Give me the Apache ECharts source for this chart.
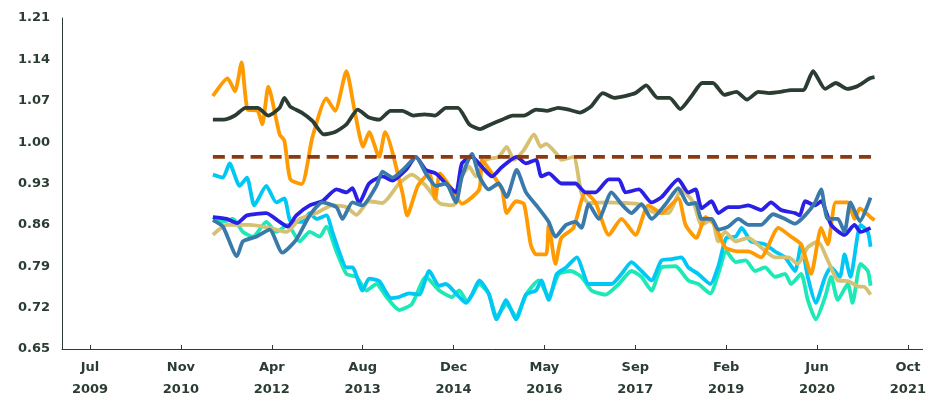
<!DOCTYPE html>
<html>
<head>
<meta charset="utf-8">
<script src="https://cdn.jsdelivr.net/npm/echarts@6/dist/echarts.min.js"></script>
<style>html,body{margin:0;padding:0;background:#fff}#c{width:929px;height:401px}</style>
</head>
<body>
<div id="c"></div>
<script>
// x axis: decimal years, ten evenly spaced date ticks
var tickLabels = ['Jul\n2009', 'Nov\n2010', 'Apr\n2012', 'Aug\n2013', 'Dec\n2014',
                  'May\n2016', 'Sep\n2017', 'Feb\n2019', 'Jun\n2020', 'Oct\n2021'];
var tickStart = 2009.5, tickEnd = 2021.75;

var darkX = [2011.34,2011.50,2011.67,2011.83,2012.01,2012.17,2012.34,2012.41,2012.50,2012.67,2012.83,2013.00,2013.17,2013.34,2013.51,2013.67,2013.83,2014.00,2014.18,2014.34,2014.51,2014.67,2014.83,2015.01,2015.18,2015.34,2015.50,2015.67,2015.83,2016.00,2016.18,2016.35,2016.51,2016.67,2016.84,2017.00,2017.18,2017.35,2017.51,2017.67,2017.83,2018.00,2018.18,2018.34,2018.51,2018.67,2018.83,2019.00,2019.18,2019.34,2019.51,2019.67,2019.84,2020.00,2020.18,2020.33,2020.51,2020.67,2020.84,2021.00,2021.18,2021.25];
var darkY = [1.038,1.038,1.045,1.058,1.058,1.045,1.058,1.075,1.060,1.050,1.036,1.013,1.017,1.030,1.055,1.042,1.038,1.053,1.053,1.045,1.047,1.045,1.058,1.058,1.030,1.022,1.030,1.038,1.045,1.045,1.055,1.053,1.058,1.055,1.050,1.060,1.083,1.075,1.078,1.083,1.096,1.075,1.075,1.056,1.078,1.100,1.100,1.080,1.085,1.072,1.085,1.083,1.085,1.088,1.088,1.120,1.090,1.100,1.090,1.095,1.108,1.110];

var benchX = [2011.34, 2021.25];
var benchY = [0.975, 0.975];

var orangeX = [2011.34,2011.56,2011.67,2011.77,2011.86,2012.01,2012.08,2012.17,2012.34,2012.41,2012.50,2012.67,2012.83,2013.04,2013.17,2013.34,2013.46,2013.59,2013.68,2013.83,2013.92,2014.18,2014.25,2014.41,2014.58,2014.67,2014.74,2014.92,2015.07,2015.33,2015.37,2015.52,2015.67,2015.74,2015.88,2016.00,2016.10,2016.18,2016.33,2016.37,2016.47,2016.56,2016.74,2016.92,2017.07,2017.27,2017.46,2017.67,2017.86,2018.06,2018.31,2018.42,2018.58,2018.72,2018.86,2019.01,2019.21,2019.36,2019.55,2019.81,2020.00,2020.15,2020.30,2020.45,2020.55,2020.67,2020.85,2020.95,2021.03,2021.19,2021.25];
var orangeY = [1.078,1.108,1.086,1.135,1.055,1.053,1.030,1.094,1.013,1.003,0.937,0.929,1.008,1.074,1.053,1.120,1.055,0.992,1.017,0.975,1.017,0.914,0.876,0.926,0.947,0.904,0.947,0.920,0.896,0.920,0.970,0.947,0.920,0.880,0.900,0.895,0.827,0.810,0.810,0.860,0.794,0.838,0.855,0.915,0.898,0.843,0.870,0.843,0.893,0.880,0.905,0.860,0.838,0.873,0.860,0.822,0.815,0.815,0.805,0.855,0.840,0.827,0.777,0.855,0.827,0.898,0.898,0.870,0.888,0.873,0.868];

var khakiX = [2011.34,2011.55,2011.89,2012.19,2012.44,2012.64,2012.89,2013.13,2013.34,2013.49,2013.68,2013.88,2014.13,2014.32,2014.53,2014.73,2014.92,2014.98,2015.07,2015.18,2015.28,2015.43,2015.62,2015.74,2015.85,2016.00,2016.15,2016.25,2016.33,2016.49,2016.56,2016.74,2016.86,2016.97,2017.22,2017.52,2017.72,2017.97,2018.16,2018.36,2018.54,2018.66,2018.81,2018.91,2019.01,2019.17,2019.36,2019.55,2019.76,2019.96,2020.10,2020.25,2020.40,2020.55,2020.70,2020.85,2021.00,2021.10,2021.19];
var khakiY = [0.843,0.860,0.860,0.855,0.848,0.870,0.880,0.893,0.890,0.877,0.900,0.897,0.930,0.945,0.926,0.897,0.893,0.897,0.942,0.958,0.942,0.970,0.975,0.992,0.970,0.987,1.013,0.992,0.997,0.980,0.970,0.975,0.914,0.897,0.898,0.897,0.895,0.880,0.880,0.920,0.897,0.860,0.870,0.832,0.848,0.832,0.838,0.822,0.805,0.805,0.794,0.822,0.832,0.800,0.766,0.765,0.756,0.755,0.742];

var blueX = [2011.34,2011.55,2011.70,2011.85,2012.14,2012.34,2012.46,2012.59,2012.79,2012.98,2013.19,2013.34,2013.43,2013.53,2013.68,2013.88,2014.03,2014.23,2014.38,2014.53,2014.68,2014.83,2014.98,2015.07,2015.22,2015.37,2015.52,2015.67,2015.89,2016.03,2016.18,2016.26,2016.37,2016.56,2016.77,2016.92,2017.07,2017.27,2017.42,2017.52,2017.72,2017.91,2018.06,2018.31,2018.46,2018.57,2018.66,2018.81,2018.91,2019.06,2019.21,2019.36,2019.55,2019.70,2019.85,2020.06,2020.13,2020.21,2020.36,2020.45,2020.60,2020.80,2020.95,2021.04,2021.19];
var blueY = [0.873,0.870,0.863,0.876,0.880,0.865,0.857,0.876,0.893,0.900,0.920,0.915,0.922,0.897,0.930,0.942,0.935,0.953,0.975,0.953,0.947,0.930,0.915,0.964,0.975,0.958,0.942,0.958,0.975,0.964,0.970,0.942,0.947,0.930,0.930,0.915,0.915,0.937,0.937,0.915,0.920,0.898,0.907,0.937,0.915,0.920,0.888,0.900,0.880,0.890,0.890,0.893,0.885,0.898,0.885,0.880,0.876,0.900,0.893,0.900,0.860,0.843,0.860,0.848,0.855];

var steelX = [2011.34,2011.49,2011.70,2011.79,2011.99,2012.19,2012.38,2012.59,2012.79,2012.98,2013.19,2013.28,2013.43,2013.58,2013.79,2013.88,2014.03,2014.23,2014.38,2014.53,2014.68,2014.83,2014.98,2015.07,2015.22,2015.33,2015.47,2015.62,2015.74,2015.89,2016.03,2016.22,2016.37,2016.47,2016.63,2016.77,2016.86,2016.97,2017.12,2017.31,2017.46,2017.61,2017.76,2017.91,2018.12,2018.31,2018.46,2018.57,2018.66,2018.81,2018.91,2019.06,2019.21,2019.36,2019.55,2019.73,2019.91,2020.06,2020.21,2020.36,2020.45,2020.55,2020.70,2020.80,2020.89,2021.03,2021.19];
var steelY = [0.868,0.857,0.807,0.832,0.840,0.852,0.813,0.835,0.876,0.898,0.890,0.870,0.898,0.893,0.926,0.950,0.940,0.958,0.975,0.947,0.926,0.930,0.898,0.942,0.980,0.942,0.920,0.930,0.907,0.953,0.915,0.888,0.865,0.840,0.860,0.865,0.855,0.895,0.870,0.915,0.895,0.880,0.895,0.870,0.895,0.922,0.895,0.897,0.870,0.870,0.852,0.857,0.870,0.860,0.860,0.878,0.870,0.862,0.876,0.898,0.920,0.870,0.870,0.848,0.898,0.866,0.906];

var cyanX = [2011.34,2011.49,2011.59,2011.74,2011.85,2011.96,2012.14,2012.29,2012.41,2012.51,2012.68,2012.79,2012.89,2013.04,2013.13,2013.23,2013.34,2013.43,2013.58,2013.68,2013.83,2014.01,2014.13,2014.28,2014.43,2014.58,2014.73,2014.83,2014.98,2015.13,2015.22,2015.33,2015.47,2015.59,2015.73,2015.88,2016.03,2016.18,2016.26,2016.37,2016.49,2016.63,2016.79,2016.97,2017.12,2017.31,2017.46,2017.61,2017.76,2017.91,2018.06,2018.21,2018.36,2018.46,2018.61,2018.79,2018.91,2019.03,2019.17,2019.26,2019.40,2019.61,2019.76,2019.91,2020.06,2020.15,2020.25,2020.37,2020.51,2020.60,2020.73,2020.80,2020.89,2021.04,2021.15,2021.19];
var cyanY = [0.945,0.940,0.964,0.926,0.940,0.893,0.926,0.898,0.905,0.865,0.865,0.880,0.870,0.876,0.848,0.815,0.788,0.788,0.749,0.769,0.765,0.736,0.738,0.744,0.742,0.782,0.757,0.760,0.744,0.728,0.742,0.766,0.744,0.700,0.733,0.700,0.742,0.749,0.766,0.733,0.777,0.788,0.805,0.760,0.760,0.760,0.777,0.797,0.782,0.766,0.800,0.802,0.805,0.788,0.777,0.760,0.790,0.838,0.840,0.855,0.832,0.827,0.815,0.805,0.782,0.827,0.772,0.728,0.772,0.788,0.772,0.810,0.772,0.860,0.848,0.823];

var tealX = [2011.34,2011.49,2011.64,2011.79,2011.94,2012.14,2012.29,2012.46,2012.64,2012.79,2012.94,2013.04,2013.19,2013.34,2013.49,2013.64,2013.79,2013.94,2014.13,2014.32,2014.53,2014.73,2014.92,2015.03,2015.15,2015.33,2015.47,2015.59,2015.74,2015.88,2016.03,2016.22,2016.37,2016.52,2016.70,2016.86,2017.01,2017.22,2017.42,2017.61,2017.76,2017.91,2018.06,2018.27,2018.46,2018.61,2018.79,2018.91,2019.03,2019.17,2019.32,2019.46,2019.61,2019.76,2019.91,2020.00,2020.15,2020.25,2020.37,2020.51,2020.60,2020.70,2020.85,2020.92,2021.04,2021.15,2021.19];
var tealY = [0.873,0.865,0.870,0.848,0.840,0.865,0.848,0.860,0.832,0.848,0.840,0.857,0.815,0.777,0.772,0.749,0.760,0.738,0.716,0.726,0.772,0.749,0.738,0.749,0.730,0.760,0.744,0.705,0.726,0.705,0.742,0.766,0.738,0.777,0.782,0.772,0.749,0.742,0.760,0.782,0.772,0.749,0.788,0.790,0.766,0.760,0.744,0.777,0.815,0.797,0.800,0.782,0.788,0.772,0.777,0.760,0.777,0.733,0.700,0.738,0.772,0.733,0.760,0.728,0.794,0.782,0.757];

var textColor = '#2b3d33';

function pairs(xs, ys) {
    var out = [];
    for (var i = 0; i < xs.length; i++) out.push([xs[i], ys[i]]);
    return out;
}
function line(name, color, xs, ys, dashed) {
    return {
        name: name, type: 'line', smooth: 0.2, showSymbol: false,
        lineStyle: {color: color, width: 3.8, type: dashed ? [12, 7] : 'solid'},
        itemStyle: {color: color},
        data: pairs(xs, ys)
    };
}

var tickValues = [];
for (var i = 0; i < tickLabels.length; i++) {
    tickValues.push(tickStart + i * (tickEnd - tickStart) / (tickLabels.length - 1));
}

var chart = echarts.init(document.getElementById('c'));
chart.setOption({
    animation: false,
    grid: {left: 62, right: 4, top: 18, bottom: 44},
    xAxis: {
        type: 'value',
        min: 2009.08,
        max: 2021.97,
        axisLine: {lineStyle: {color: textColor, width: 1}},
        axisTick: {show: true, inside: true, length: 4, customValues: tickValues, lineStyle: {color: textColor}},
        splitLine: {show: false},
        axisLabel: {
            customValues: tickValues,
            color: textColor, fontWeight: 'bold', fontSize: 13, fontFamily: 'DejaVu Sans',
            lineHeight: 22, margin: 8,
            formatter: function (v) {
                var best = 0;
                for (var i = 1; i < tickValues.length; i++) {
                    if (Math.abs(tickValues[i] - v) < Math.abs(tickValues[best] - v)) best = i;
                }
                return tickLabels[best];
            }
        }
    },
    yAxis: {
        type: 'value', min: 0.65, max: 1.21, interval: 0.07,
        axisLine: {show: true, lineStyle: {color: textColor, width: 1}},
        axisTick: {show: false},
        splitLine: {show: false},
        axisLabel: {
            color: textColor, fontWeight: 'bold', fontSize: 13, fontFamily: 'DejaVu Sans', margin: 12,
            formatter: function (v) { return v.toFixed(2); }
        }
    },
    series: [
        line('teal', '#1de9b6', tealX, tealY),
        line('cyan', '#00c8f5', cyanX, cyanY),
        line('khaki', '#d6c072', khakiX, khakiY),
        line('orange', '#ff9a00', orangeX, orangeY),
        line('blue', '#2a1fe6', blueX, blueY),
        line('steel', '#3a7aaa', steelX, steelY),
        line('dark', '#2b3d33', darkX, darkY),
        line('bench', '#8b3a0f', benchX, benchY, true)
    ]
});
</script>
</body>
</html>
